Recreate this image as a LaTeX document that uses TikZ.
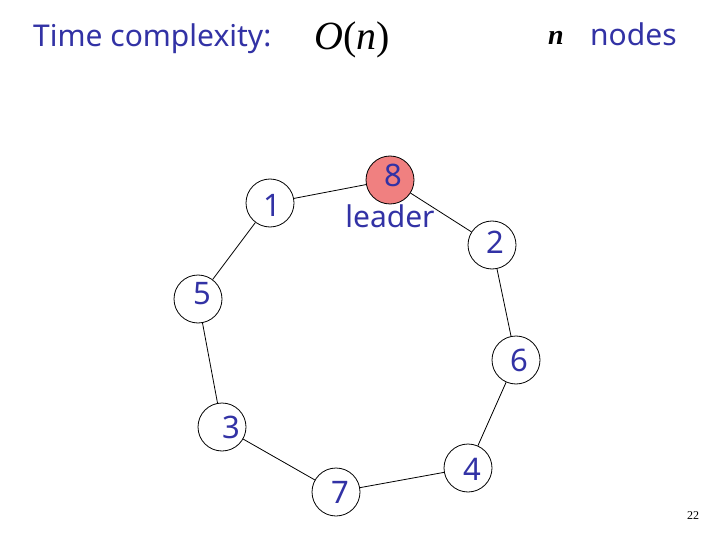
\documentclass[tikz,border=0pt]{standalone}
\usepackage{fontspec}
\setmainfont{Noto Sans}
\newfontfamily\timesfont{Liberation Serif}
\definecolor{txtblue}{RGB}{50,50,165}
\definecolor{leadfill}{RGB}{240,128,128}
\tikzset{
  ring/.style={circle, draw=black, line width=0.8pt, minimum size=48pt, inner sep=0pt, fill=white},
  digit/.style={text=txtblue, font=\fontsize{31}{36}\selectfont, inner sep=0pt},
  bluetext/.style={text=txtblue, font=\fontsize{30}{36}\selectfont, inner sep=0pt},
  edge/.style={draw=black, line width=0.8pt}
}
\begin{document}
\begin{tikzpicture}[x=1pt,y=-1pt]
\useasboundingbox[fill=white] (0,0) rectangle (720,540);
% title
\node[bluetext, anchor=base west] (title) at (33,47) {Time complexity:};
\node[inner sep=0pt, anchor=base west, font=\timesfont\fontsize{40}{45}\selectfont] (big) at (314,50) {\itshape O\upshape(\itshape n\upshape)};
\node[inner sep=0pt, anchor=base west, font=\timesfont\fontsize{28}{32}\selectfont\bfseries\itshape] (nvar) at (548,45) {n};
\node[bluetext, anchor=base west] (nodes) at (590,46) {nodes};
% ring nodes
\node[ring] (n1) at (270,203) {};
\node[ring, fill=leadfill] (n8) at (390,180) {};
\node[ring] (n2) at (492,245) {};
\node[ring] (n5) at (198,299) {};
\node[ring] (n6) at (516,360) {};
\node[ring] (n3) at (222,427) {};
\node[ring] (n4) at (468,468) {};
\node[ring] (n7) at (336,492) {};
% edges
\draw[edge] (n1) -- (n8);
\draw[edge] (n8) -- (n2);
\draw[edge] (n2) -- (n6);
\draw[edge] (n6) -- (n4);
\draw[edge] (n4) -- (n7);
\draw[edge] (n7) -- (n3);
\draw[edge] (n3) -- (n5);
\draw[edge] (n5) -- (n1);
% digits
\node[digit] (t1) at (272,205) {1};
\node[digit] (t8) at (393,175) {8};
\node[digit] (t2) at (495,242) {2};
\node[digit] (t5) at (202,294) {5};
\node[digit] (t6) at (519,360) {6};
\node[digit] (t3) at (231,427) {3};
\node[digit] (t4) at (472,469) {4};
\node[digit] (t7) at (340,492) {7};
\node[bluetext, anchor=base] (lead) at (390,227) {leader};
% page number
\node[inner sep=0pt, font=\timesfont\fontsize{12}{14}\selectfont] (page) at (693,516) {22};
\end{tikzpicture}
\end{document}
